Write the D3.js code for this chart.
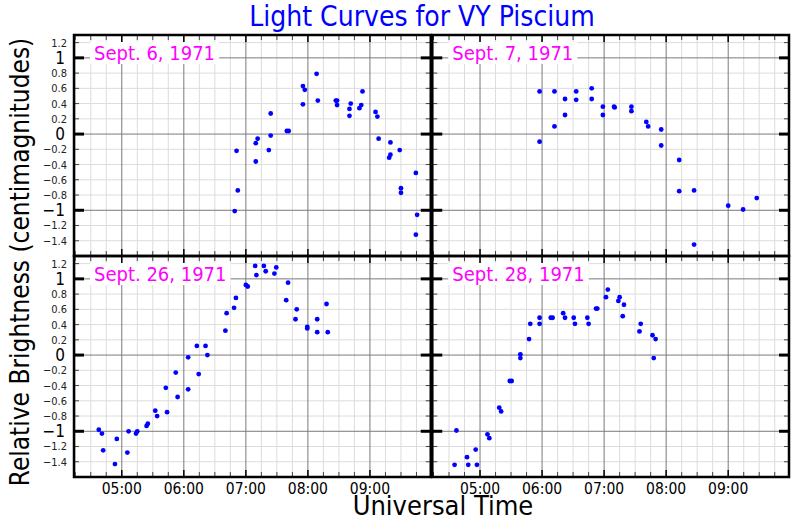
<!DOCTYPE html>
<html><head><meta charset="utf-8">
<script src="https://cdn.jsdelivr.net/npm/d3@7"></script>
<style>
body{margin:0;background:#fff}
text{font-family:'DejaVu Sans Condensed','DejaVu Sans',sans-serif;font-stretch:condensed}
</style></head>
<body><svg id="chart" width="800" height="520"></svg>
<script>
// ---- data (decimal UT hours, relative brightness in centimagnitudes) ----
const chartTitle = "Light Curves for VY Piscium";
const xAxisTitle = "Universal Time";
const yAxisTitle = "Relative Brightness (centimagnitudes)";
const panelLabels = ["Sept. 6, 1971", "Sept. 7, 1971", "Sept. 26, 1971", "Sept. 28, 1971"];

const sept6Hours = [6.85,6.87,6.82,7.16,7.19,7.16,7.37,7.40,7.40,7.66,7.69,7.92,7.95,7.92,8.14,8.16,8.45,8.47,8.47,8.69,8.67,8.67,8.83,8.86,8.88,9.09,9.12,9.14,9.33,9.33,9.31,9.48,9.50,9.50,9.74,9.76,9.74];
const sept6Mags  = [-0.22,-0.74,-1.01,-0.12,-0.06,-0.36,-0.21,-0.02,0.27,0.04,0.04,0.63,0.58,0.39,0.79,0.44,0.44,0.44,0.38,0.40,0.33,0.24,0.34,0.38,0.56,0.29,0.23,-0.06,-0.11,-0.27,-0.31,-0.21,-0.71,-0.77,-0.51,-1.06,-1.32];

const sept7Hours = [5.96,5.96,6.20,6.20,6.37,6.37,6.55,6.55,6.80,6.80,6.98,6.98,7.16,7.17,7.44,7.44,7.68,7.71,7.92,7.92,8.21,8.21,8.45,8.45,9.00,9.24,9.46];
const sept7Mags  = [0.56,-0.10,0.56,0.10,0.46,0.25,0.56,0.45,0.60,0.46,0.36,0.25,0.36,0.35,0.36,0.30,0.16,0.10,0.06,-0.15,-0.34,-0.75,-0.74,-1.45,-0.94,-0.99,-0.84];

const sept26Hours = [4.63,4.68,4.70,4.89,4.92,5.09,5.11,5.23,5.25,5.40,5.42,5.54,5.57,5.71,5.73,5.87,5.90,6.07,6.07,6.21,6.24,6.35,6.38,6.67,6.69,6.81,6.84,7.00,7.03,7.15,7.17,7.29,7.32,7.46,7.49,7.68,7.65,7.82,7.80,7.99,7.99,8.15,8.15,8.30,8.32];
const sept26Mags  = [-0.98,-1.03,-1.25,-1.43,-1.10,-1.28,-1.00,-1.03,-1.00,-0.93,-0.90,-0.73,-0.80,-0.43,-0.75,-0.23,-0.55,-0.03,-0.45,0.12,-0.25,0.12,0.00,0.32,0.55,0.62,0.75,0.92,0.90,1.17,1.05,1.17,1.10,1.07,1.15,0.95,0.72,0.60,0.47,0.37,0.35,0.47,0.30,0.67,0.30];

const sept28Hours = [4.59,4.62,4.79,4.81,4.93,4.95,5.12,5.15,5.31,5.34,5.48,5.51,5.65,5.65,5.79,5.81,5.96,5.96,6.14,6.17,6.34,6.37,6.51,6.53,6.73,6.75,6.87,6.89,7.03,7.06,7.23,7.25,7.32,7.30,7.57,7.59,7.78,7.83,7.80];
const sept28Mags  = [-1.44,-0.99,-1.34,-1.44,-1.24,-1.44,-1.04,-1.09,-0.69,-0.74,-0.34,-0.34,0.01,-0.04,0.21,0.41,0.41,0.49,0.49,0.49,0.55,0.49,0.49,0.41,0.49,0.41,0.61,0.61,0.76,0.86,0.71,0.76,0.66,0.51,0.31,0.41,0.26,0.21,-0.04];

const hourTicks = [5, 6, 7, 8, 9];
const yMajorTicks = [-1, 0, 1];
const yMinorTicks = [-1.4, -1.2, -0.8, -0.6, -0.4, -0.2, 0.2, 0.4, 0.6, 0.8, 1.2];

// ---- layout ----
const svg = d3.select("#chart");
const plotL = 74, plotR = 789, plotT = 35, plotB = 477;
const gapX = 1.5;
const pw = (plotR - plotL - gapX) / 2;
const ph = (plotB - plotT) / 2;

const x = d3.scaleLinear().domain([4.23, 9.98]).range([0, pw]);
const y = d3.scaleLinear().domain([-1.6, 1.3]).range([ph, 0]);

const minorTimes = d3.range(4.25, 10.0, 0.25).filter(t => Math.abs(t - Math.round(t)) > 1e-6);
const yMinorGrid = d3.range(-1.4, 1.3, 0.2).filter(v => Math.abs(v - Math.round(v)) > 1e-6);
const fmtHour = h => d3.format("02d")(h) + ":00";
const fmtY = d3.format("");

const panels = [
  {label: panelLabels[0], hours: sept6Hours,  mags: sept6Mags,  col: 0, row: 0},
  {label: panelLabels[1], hours: sept7Hours,  mags: sept7Mags,  col: 1, row: 0},
  {label: panelLabels[2], hours: sept26Hours, mags: sept26Mags, col: 0, row: 1},
  {label: panelLabels[3], hours: sept28Hours, mags: sept28Mags, col: 1, row: 1}
];

panels.forEach(p => {
  const gx = plotL + p.col * (pw + gapX);
  const gy = plotT + p.row * ph;
  const g = svg.append("g").attr("transform", `translate(${gx},${gy})`);

  // minor grid
  g.selectAll(".vminor").data(minorTimes).join("line")
    .attr("x1", d => x(d)).attr("x2", d => x(d)).attr("y1", 0).attr("y2", ph)
    .attr("stroke", "#dcdcdc").attr("stroke-width", 1);
  g.selectAll(".hminor").data(yMinorGrid).join("line")
    .attr("x1", 0).attr("x2", pw).attr("y1", d => y(d)).attr("y2", d => y(d))
    .attr("stroke", "#dcdcdc").attr("stroke-width", 1);
  // major grid
  g.selectAll(".vmajor").data(hourTicks).join("line")
    .attr("x1", d => x(d)).attr("x2", d => x(d)).attr("y1", 0).attr("y2", ph)
    .attr("stroke", "#7a7a7a").attr("stroke-width", 1);
  g.selectAll(".hmajor").data(yMajorTicks).join("line")
    .attr("x1", 0).attr("x2", pw).attr("y1", d => y(d)).attr("y2", d => y(d))
    .attr("stroke", "#7a7a7a").attr("stroke-width", 1);

  // label with white box
  const lab = g.append("text").attr("x", 20).attr("y", 25)
    .attr("fill", "#ff00ff").attr("font-size", 20).text(p.label);
  const bb = lab.node().getBBox();
  g.insert("rect", "text").attr("x", bb.x - 4).attr("y", bb.y + 1).attr("width", bb.width + 8)
    .attr("height", bb.height - 2).attr("fill", "#fff");

  // points
  g.selectAll("circle").data(p.hours.map((h, i) => [h, p.mags[i]])).join("circle")
    .attr("cx", d => x(d[0])).attr("cy", d => y(d[1])).attr("r", 2.4).attr("fill", "#0000ff");

  // ticks on all sides (inward)
  const tk = g.append("g");
  yMinorTicks.forEach(v => {
    tk.append("line").attr("x1", 0).attr("x2", 5).attr("y1", y(v)).attr("y2", y(v)).attr("stroke", "#444").attr("stroke-width", 1);
    tk.append("line").attr("x1", pw).attr("x2", pw - 5).attr("y1", y(v)).attr("y2", y(v)).attr("stroke", "#444").attr("stroke-width", 1);
  });
  yMajorTicks.forEach(v => {
    tk.append("line").attr("x1", 0).attr("x2", 10).attr("y1", y(v)).attr("y2", y(v)).attr("stroke", "#000").attr("stroke-width", 3);
    tk.append("line").attr("x1", pw).attr("x2", pw - 10).attr("y1", y(v)).attr("y2", y(v)).attr("stroke", "#000").attr("stroke-width", 3);
  });
  minorTimes.forEach(t => {
    tk.append("line").attr("x1", x(t)).attr("x2", x(t)).attr("y1", 0).attr("y2", 5).attr("stroke", "#444").attr("stroke-width", 1);
    tk.append("line").attr("x1", x(t)).attr("x2", x(t)).attr("y1", ph).attr("y2", ph - 5).attr("stroke", "#444").attr("stroke-width", 1);
  });
  hourTicks.forEach(t => {
    tk.append("line").attr("x1", x(t)).attr("x2", x(t)).attr("y1", 0).attr("y2", 7).attr("stroke", "#000").attr("stroke-width", 1.5);
    tk.append("line").attr("x1", x(t)).attr("x2", x(t)).attr("y1", ph).attr("y2", ph - 7).attr("stroke", "#000").attr("stroke-width", 1.5);
  });

  // frame
  g.append("rect").attr("x", 0).attr("y", 0).attr("width", pw).attr("height", ph)
    .attr("fill", "none").attr("stroke", "#000").attr("stroke-width", 2.5);

  // tick labels
  if (p.col === 0) {
    g.selectAll(".ylabMinor").data(yMinorTicks).join("text")
      .attr("x", -7).attr("y", d => y(d)).attr("dy", "0.36em").attr("text-anchor", "end")
      .attr("font-size", 11).attr("fill", "#222").text(d => fmtY(d));
    g.selectAll(".ylabMajor").data(yMajorTicks).join("text")
      .attr("x", -9).attr("y", d => y(d)).attr("dy", "0.36em").attr("text-anchor", "end")
      .attr("font-size", 17).attr("fill", "#000").text(d => fmtY(d));
  }
  if (p.row === 1) {
    g.selectAll(".xlab").data(hourTicks).join("text")
      .attr("x", d => x(d)).attr("y", ph + 17).attr("text-anchor", "middle")
      .attr("font-size", 15.5).attr("fill", "#000").text(fmtHour);
  }
});

// titles
svg.append("text").attr("x", 422).attr("y", 26).attr("text-anchor", "middle")
  .attr("font-size", 28).attr("fill", "#0000ff").text(chartTitle);
svg.append("text").attr("x", 443).attr("y", 515).attr("text-anchor", "middle")
  .attr("font-size", 27).attr("fill", "#000").text(xAxisTitle);
svg.append("text").attr("transform", "translate(29,262) rotate(-90)").attr("text-anchor", "middle")
  .attr("font-size", 26).attr("fill", "#000").text(yAxisTitle);
</script></body></html>
